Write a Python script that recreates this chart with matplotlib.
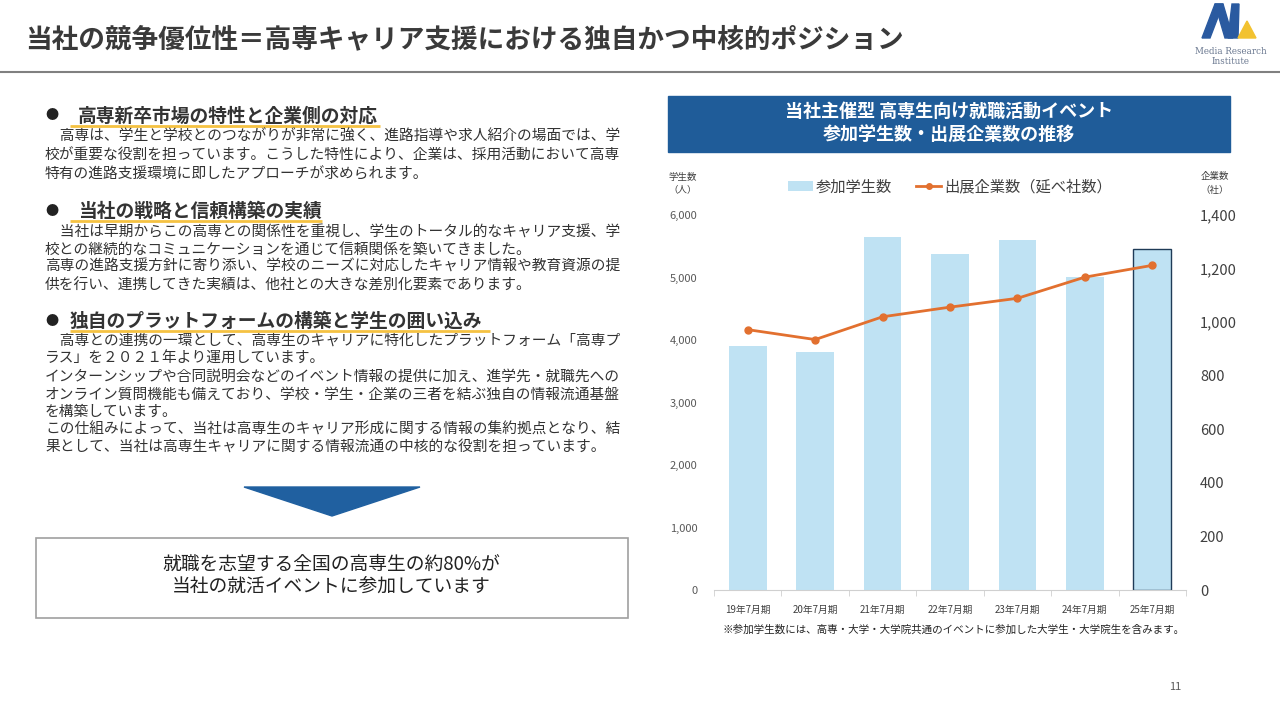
import matplotlib.pyplot as plt
import numpy as np
from matplotlib.patches import Rectangle, Polygon, Patch
from matplotlib.lines import Line2D

plt.rcParams['font.family'] = ['Noto Sans CJK JP', 'DejaVu Sans']

# データ
periods = ['19年7月期', '20年7月期', '21年7月期', '22年7月期', '23年7月期', '24年7月期', '25年7月期']
students = [3910, 3810, 5650, 5380, 5600, 5000, 5450]
companies = [972, 935, 1020, 1056, 1089, 1168, 1212]

title = '当社の競争優位性＝高専キャリア支援における独自かつ中核的ポジション'
chart_title = ['当社主催型 高専生向け就職活動イベント', '参加学生数・出展企業数の推移']
head1 = '高専新卒市場の特性と企業側の対応'
body1 = ['　高専は、学生と学校とのつながりが非常に強く、進路指導や求人紹介の場面では、学',
         '校が重要な役割を担っています。こうした特性により、企業は、採用活動において高専',
         '特有の進路支援環境に即したアプローチが求められます。']
head2 = '当社の戦略と信頼構築の実績'
body2 = ['　当社は早期からこの高専との関係性を重視し、学生のトータル的なキャリア支援、学',
         '校との継続的なコミュニケーションを通じて信頼関係を築いてきました。',
         '高専の進路支援方針に寄り添い、学校のニーズに対応したキャリア情報や教育資源の提',
         '供を行い、連携してきた実績は、他社との大きな差別化要素であります。']
head3 = '独自のプラットフォームの構築と学生の囲い込み'
body3 = ['　高専との連携の一環として、高専生のキャリアに特化したプラットフォーム「高専プ',
         'ラス」を２０２１年より運用しています。',
         'インターンシップや合同説明会などのイベント情報の提供に加え、進学先・就職先への',
         'オンライン質問機能も備えており、学校・学生・企業の三者を結ぶ独自の情報流通基盤',
         'を構築しています。',
         'この仕組みによって、当社は高専生のキャリア形成に関する情報の集約拠点となり、結',
         '果として、当社は高専生キャリアに関する情報流通の中核的な役割を担っています。']
box_text = ['就職を志望する全国の高専生の約80%が', '当社の就活イベントに参加しています']
footnote = '※参加学生数には、高専・大学・大学院共通のイベントに参加した大学生・大学院生を含みます。'

fig = plt.figure(figsize=(12.8, 7.2), dpi=100)
fig.patch.set_facecolor('white')

# 背景（ピクセル座標）
bg = fig.add_axes([0, 0, 1, 1])
bg.set_xlim(0, 1280)
bg.set_ylim(720, 0)
bg.axis('off')

bg.text(25, 40, title, fontsize=19.2, fontweight='bold', color='#3a3a3a', va='center', ha='left')
bg.plot([0, 1280], [72, 72], color='#808080', lw=1.5)

# ロゴ
logo_blue = '#2a5aa0'
bg.add_patch(Polygon([(1202, 38), (1210, 38), (1223, 4), (1215, 4)], closed=True, color=logo_blue))
bg.add_patch(Polygon([(1215, 4), (1223, 4), (1233, 38), (1225, 38)], closed=True, color=logo_blue))
bg.add_patch(Polygon([(1232, 4), (1239, 4), (1238, 38), (1228, 38)], closed=True, color=logo_blue))
bg.add_patch(Polygon([(1238, 38), (1247, 21), (1256, 38)], closed=True, color='#f2c230'))
bg.text(1231, 51, 'Media Research', fontsize=6.3, family='DejaVu Serif', color='#6a7890', ha='center', va='center')
bg.text(1231, 61, 'Institute', fontsize=6.3, family='DejaVu Serif', color='#6a7890', ha='center', va='center')

# 左側テキスト
def section(y_head, x_head, head, underline_end, lines, y_lines):
    bg.text(45, y_head, '●', fontsize=9.5, color='#222222', va='center', ha='left')
    bg.text(x_head, y_head, head, fontsize=13.5, fontweight='bold', color='#333333', va='center', ha='left')
    bg.plot([70, underline_end], [y_head + 10, y_head + 10], color='#f5c242', lw=2, solid_capstyle='butt')
    for t, y in zip(lines, y_lines):
        bg.text(45, y, t, fontsize=10.6, color='#333333', va='center', ha='left')

section(116, 78, head1, 380, body1, [137, 156, 174])
section(211, 78, head2, 322, body2, [232, 250, 267, 285])
section(321, 70, head3, 490, body3, [341, 359, 377, 395, 412, 430, 447])

# 矢印とボックス
bg.add_patch(Polygon([(244, 487), (420, 487), (332, 516)], closed=True, color='#2060a0'))
bg.add_patch(Rectangle((36, 538), 592, 80, fill=False, edgecolor='#a0a0a0', lw=1.2))
bg.text(331, 564, box_text[0], fontsize=13.5, color='#222222', ha='center', va='center')
bg.text(331, 586, box_text[1], fontsize=13.5, color='#222222', ha='center', va='center')

# グラフタイトル
bg.add_patch(Rectangle((668, 96), 562, 56, color='#1f5c99'))
bg.text(949, 111, chart_title[0], fontsize=13, fontweight='bold', color='white', ha='center', va='center')
bg.text(949, 134, chart_title[1], fontsize=13, fontweight='bold', color='white', ha='center', va='center')

bg.text(683, 177, '学生数', fontsize=6.8, color='#404040', ha='center', va='center')
bg.text(683, 190, '（人）', fontsize=6.8, color='#404040', ha='center', va='center')
bg.text(1215, 177, '企業数', fontsize=6.8, color='#404040', ha='center', va='center')
bg.text(1215, 190, '（社）', fontsize=6.8, color='#404040', ha='center', va='center')
bg.text(722, 630, footnote, fontsize=7.6, color='#222222', ha='left', va='center')
bg.text(1175, 687, '11', fontsize=8, color='#595959', ha='center', va='center')

# グラフ本体
ax = fig.add_axes([714 / 1280, 130 / 720, 472 / 1280, 375 / 720])
x = np.arange(len(periods))
bar_color = '#bfe2f3'
bars = ax.bar(x, students, width=0.56, color=bar_color, zorder=2)
bars[-1].set_edgecolor('#1f3b57')
bars[-1].set_linewidth(1.0)
ax.set_xlim(-0.5, len(periods) - 0.5)
ax.set_ylim(0, 6000)
ax.set_yticks(range(0, 6001, 1000))
ax.set_yticklabels([f'{v:,}' for v in range(0, 6001, 1000)])
ax.set_xticks(x)
ax.set_xticklabels(periods)
ax.set_xticks(np.arange(-0.5, len(periods), 1.0), minor=True)
ax.tick_params(axis='x', which='major', length=0, labelsize=7, labelcolor='#404040', pad=11)
ax.tick_params(axis='x', which='minor', length=4, color='#d0d0d0', direction='out')
ax.tick_params(axis='y', length=0, labelsize=8, labelcolor='#595959', pad=12)
for s in ['top', 'left', 'right']:
    ax.spines[s].set_visible(False)
ax.spines['bottom'].set_color('#d0d0d0')

ax2 = ax.twinx()
line_color = '#e2702f'
ax2.plot(x, companies, color=line_color, lw=2, marker='o', ms=5, zorder=3)
ax2.set_ylim(0, 1400)
ax2.set_yticks(range(0, 1401, 200))
ax2.set_yticklabels([f'{v:,}' for v in range(0, 1401, 200)])
ax2.tick_params(axis='y', length=0, labelsize=10.5, labelcolor='#404040', pad=10)
for s in ['top', 'left', 'right', 'bottom']:
    ax2.spines[s].set_visible(False)

handles = [Patch(facecolor=bar_color, edgecolor='none'),
           Line2D([0], [0], color=line_color, lw=2, marker='o', ms=4)]
ax2.legend(handles, ['参加学生数', '出展企業数（延べ社数）'], loc='center', bbox_to_anchor=(0.5, 1.075),
           ncol=2, frameon=False, fontsize=11, handlelength=1.6, handleheight=0.7,
           handletextpad=0.2, columnspacing=1.6, labelcolor='#404040')

fig.savefig('out.png', dpi=100)
